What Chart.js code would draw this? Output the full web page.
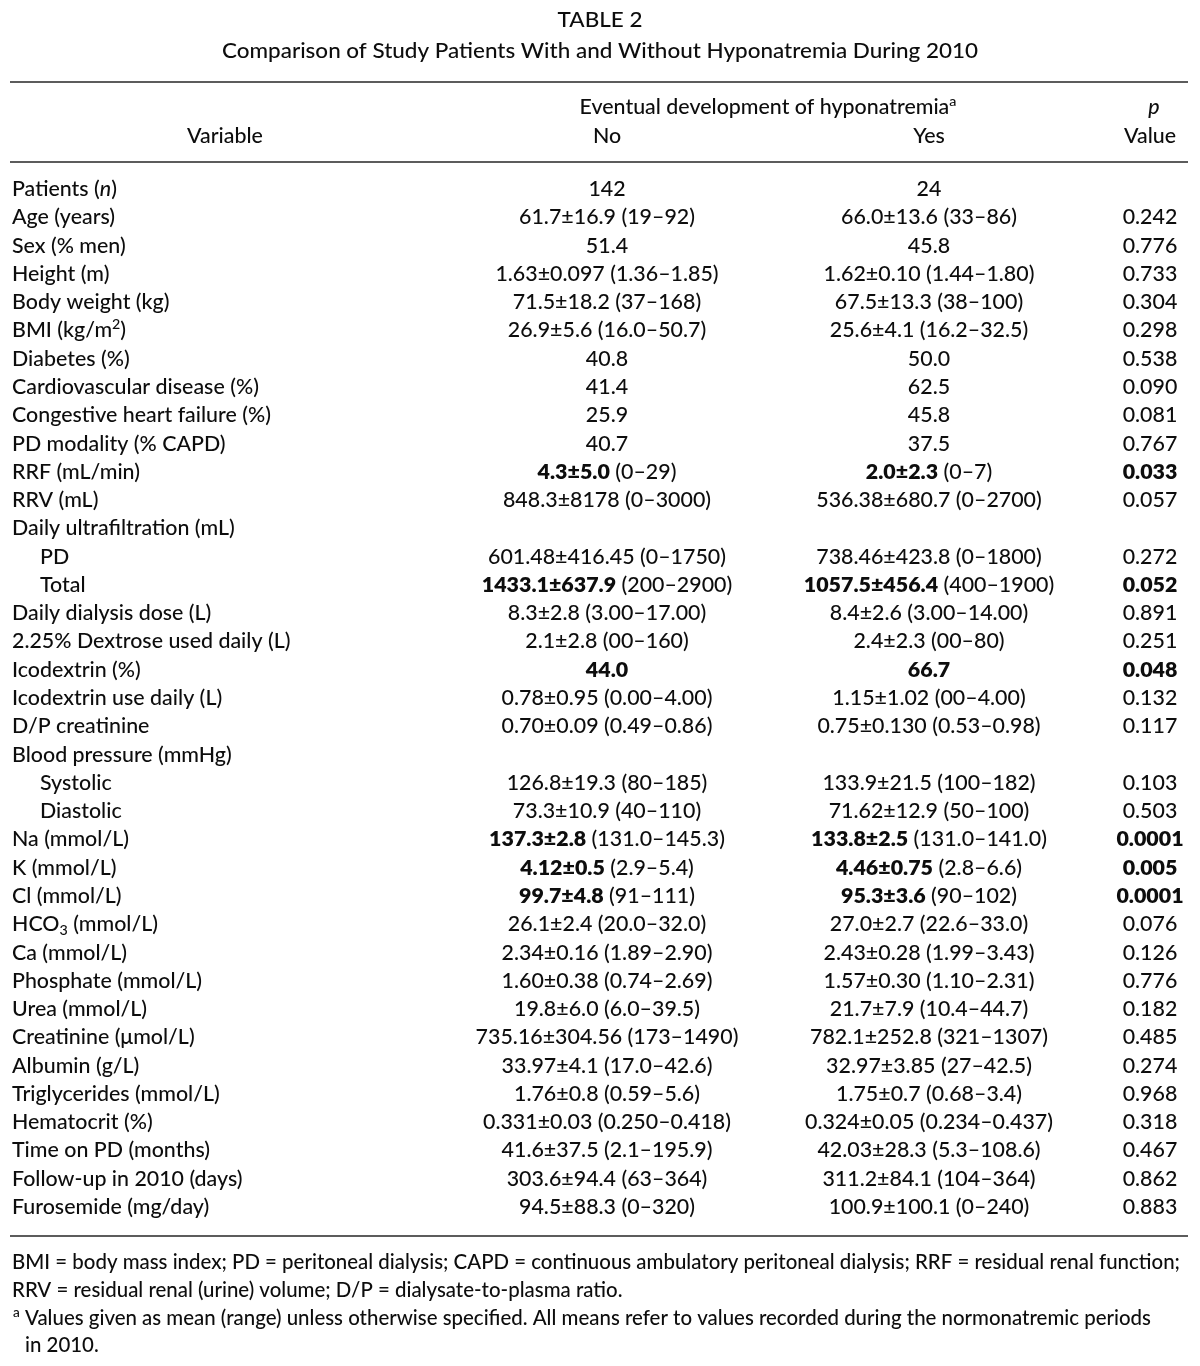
<!DOCTYPE html>
<html>
<head>
<meta charset="utf-8">
<script src="https://cdn.jsdelivr.net/npm/chart.js@4.4.1/dist/chart.umd.min.js"></script>
<style>
  html, body { margin: 0; padding: 0; background: #ffffff; }
  #wrap { width: 1200px; height: 1366px; position: relative; }
</style>
</head>
<body>
<div id="wrap"><canvas id="c"></canvas></div>
<script>
// ---------------- DATA ----------------
const tableTitle = "TABLE 2";
const tableSubtitle = "Comparison of Study Patients With and Without Hyponatremia During 2010";
const groupHeader = "Eventual development of hyponatremia^a^";
const columnHeaders = ["Variable", "No", "Yes", "Value"];
const pHeaderTop = "*p*";

const rowLabels = [
  "Patients (*n*)",
  "Age (years)",
  "Sex (% men)",
  "Height (m)",
  "Body weight (kg)",
  "BMI (kg/m^2^)",
  "Diabetes (%)",
  "Cardiovascular disease (%)",
  "Congestive heart failure (%)",
  "PD modality (% CAPD)",
  "RRF (mL/min)",
  "RRV (mL)",
  "Daily ultrafiltration (mL)",
  "PD",
  "Total",
  "Daily dialysis dose (L)",
  "2.25% Dextrose used daily (L)",
  "Icodextrin (%)",
  "Icodextrin use daily (L)",
  "D/P creatinine",
  "Blood pressure (mmHg)",
  "Systolic",
  "Diastolic",
  "Na (mmol/L)",
  "K (mmol/L)",
  "Cl (mmol/L)",
  "HCO~3~ (mmol/L)",
  "Ca (mmol/L)",
  "Phosphate (mmol/L)",
  "Urea (mmol/L)",
  "Creatinine (μmol/L)",
  "Albumin (g/L)",
  "Triglycerides (mmol/L)",
  "Hematocrit (%)",
  "Time on PD (months)",
  "Follow-up in 2010 (days)",
  "Furosemide (mg/day)"
];

const subRows = ["PD", "Total", "Systolic", "Diastolic"];

const noStat = ["142","61.7±16.9","51.4","1.63±0.097","71.5±18.2","26.9±5.6","40.8","41.4","25.9","40.7",
  "4.3±5.0","848.3±8178","","601.48±416.45","1433.1±637.9","8.3±2.8","2.1±2.8","44.0","0.78±0.95","0.70±0.09",
  "","126.8±19.3","73.3±10.9","137.3±2.8","4.12±0.5","99.7±4.8","26.1±2.4","2.34±0.16","1.60±0.38","19.8±6.0",
  "735.16±304.56","33.97±4.1","1.76±0.8","0.331±0.03","41.6±37.5","303.6±94.4","94.5±88.3"];
const noRange = ["","(19–92)","","(1.36–1.85)","(37–168)","(16.0–50.7)","","","","",
  "(0–29)","(0–3000)","","(0–1750)","(200–2900)","(3.00–17.00)","(00–160)","","(0.00–4.00)","(0.49–0.86)",
  "","(80–185)","(40–110)","(131.0–145.3)","(2.9–5.4)","(91–111)","(20.0–32.0)","(1.89–2.90)","(0.74–2.69)","(6.0–39.5)",
  "(173–1490)","(17.0–42.6)","(0.59–5.6)","(0.250–0.418)","(2.1–195.9)","(63–364)","(0–320)"];
const yesStat = ["24","66.0±13.6","45.8","1.62±0.10","67.5±13.3","25.6±4.1","50.0","62.5","45.8","37.5",
  "2.0±2.3","536.38±680.7","","738.46±423.8","1057.5±456.4","8.4±2.6","2.4±2.3","66.7","1.15±1.02","0.75±0.130",
  "","133.9±21.5","71.62±12.9","133.8±2.5","4.46±0.75","95.3±3.6","27.0±2.7","2.43±0.28","1.57±0.30","21.7±7.9",
  "782.1±252.8","32.97±3.85","1.75±0.7","0.324±0.05","42.03±28.3","311.2±84.1","100.9±100.1"];
const yesRange = ["","(33–86)","","(1.44–1.80)","(38–100)","(16.2–32.5)","","","","",
  "(0–7)","(0–2700)","","(0–1800)","(400–1900)","(3.00–14.00)","(00–80)","","(00–4.00)","(0.53–0.98)",
  "","(100–182)","(50–100)","(131.0–141.0)","(2.8–6.6)","(90–102)","(22.6–33.0)","(1.99–3.43)","(1.10–2.31)","(10.4–44.7)",
  "(321–1307)","(27–42.5)","(0.68–3.4)","(0.234–0.437)","(5.3–108.6)","(104–364)","(0–240)"];
const pValues = ["","0.242","0.776","0.733","0.304","0.298","0.538","0.090","0.081","0.767",
  "0.033","0.057","","0.272","0.052","0.891","0.251","0.048","0.132","0.117",
  "","0.103","0.503","0.0001","0.005","0.0001","0.076","0.126","0.776","0.182",
  "0.485","0.274","0.968","0.318","0.467","0.862","0.883"];
const significantRows = ["RRF (mL/min)", "Total", "Icodextrin (%)", "Na (mmol/L)", "K (mmol/L)", "Cl (mmol/L)"];

const footnotes = [
  "BMI = body mass index; PD = peritoneal dialysis; CAPD = continuous ambulatory peritoneal dialysis; RRF = residual renal function;",
  "RRV = residual renal (urine) volume; D/P = dialysate-to-plasma ratio.",
  "Values given as mean (range) unless otherwise specified. All means refer to values recorded during the normonatremic periods",
  "in 2010."
];
const footnoteMark = "a";

// ---------------- STYLE / LAYOUT ----------------
const FONT = 'Lato, "Open Sans", "Noto Sans", sans-serif';
const SIZE = 21;
const W_REG = '500';
const W_BOLD = '800';
const INK = "#0d0d0d";
const RULE = "#5c5c5c";
const COL = { label: 12, indent: 40, no: 607, yes: 929, p: 1150, group: 768, varHead: 225 };
let SX = 1;

function parseMarkup(str, bold) {
  const parts = str.split(/(\*[^*]+\*|\^[^^]+\^|~[^~]+~)/).filter(s => s.length);
  return parts.map(p => {
    if (p[0] === '*' && p[p.length-1] === '*') return { text: p.slice(1,-1), italic: true, bold };
    if (p[0] === '^' && p[p.length-1] === '^') return { text: p.slice(1,-1), sup: true, bold };
    if (p[0] === '~' && p[p.length-1] === '~') return { text: p.slice(1,-1), sub: true, bold };
    return { text: p, bold };
  });
}
function fontFor(seg) {
  const sz = (seg.sup || seg.sub) ? Math.round(SIZE * 0.66) : SIZE;
  return (seg.italic ? 'italic ' : '') + (seg.bold ? W_BOLD : W_REG) + ' ' + sz + 'px ' + FONT;
}
function segWidth(ctx, seg, sx) { ctx.font = fontFor(seg); return ctx.measureText(seg.text).width * sx; }
function segsWidth(ctx, segs, sx) { return segs.reduce((a, s) => a + segWidth(ctx, s, sx), 0); }
function drawSegs(ctx, segs, x, base, align, sxOverride) {
  const sx = sxOverride || SX;
  const total = segsWidth(ctx, segs, sx);
  let cx = align === 'center' ? x - total / 2 : (align === 'right' ? x - total : x);
  for (const s of segs) {
    const w = segWidth(ctx, s, sx);
    let dy = 0;
    if (s.sup) dy = -8;
    if (s.sub) dy = 4;
    ctx.save();
    ctx.font = fontFor(s);
    ctx.fillStyle = INK;
    ctx.textBaseline = 'alphabetic';
    ctx.textAlign = 'left';
    ctx.translate(cx, base + dy);
    ctx.scale(sx, 1);
    ctx.fillText(s.text, 0, 0);
    ctx.restore();
    cx += w;
  }
}
function hRule(ctx, x1, x2, y) {
  ctx.save();
  ctx.strokeStyle = RULE;
  ctx.lineWidth = 2;
  ctx.beginPath(); ctx.moveTo(x1, y); ctx.lineTo(x2, y); ctx.stroke();
  ctx.restore();
}

const tablePlugin = {
  id: 'tablePlugin',
  afterDraw(chart) {
    const ctx = chart.ctx;
    const xs = chart.scales.x, ys = chart.scales.y;
    ctx.font = W_REG + ' ' + SIZE + 'px ' + FONT;
    SX = 259 / ctx.measureText('Congestive heart failure (%)').width;
    const X = v => xs.getPixelForValue(v);
    const OFF = 7;

    // Title
    const subSegs = parseMarkup(tableSubtitle, false);
    const titleSX = 756 / segsWidth(ctx, subSegs, 1);
    drawSegs(ctx, parseMarkup(tableTitle, false), X(600), 27, 'center', titleSX);
    drawSegs(ctx, subSegs, X(600), 58, 'center', titleSX);
    hRule(ctx, X(10), X(1188), 82);

    // Header
    drawSegs(ctx, parseMarkup(groupHeader, false), X(COL.group), 114, 'center');
    drawSegs(ctx, parseMarkup(pHeaderTop, false), X(COL.p + 4), 114, 'center');
    drawSegs(ctx, parseMarkup(columnHeaders[0], false), X(COL.varHead), 143, 'center');
    drawSegs(ctx, parseMarkup(columnHeaders[1], false), X(COL.no), 143, 'center');
    drawSegs(ctx, parseMarkup(columnHeaders[2], false), X(COL.yes), 143, 'center');
    drawSegs(ctx, parseMarkup(columnHeaders[3], false), X(COL.p), 143, 'center');

    const yFirst = ys.getPixelForValue(0);
    const yLast = ys.getPixelForValue(rowLabels.length - 1);
    hRule(ctx, X(10), X(1188), yFirst - 27);

    // Body
    rowLabels.forEach((lab, i) => {
      const y = ys.getPixelForValue(i) + OFF;
      const plain = lab.replace(/[*^~]/g, '');
      const sig = significantRows.includes(plain);
      const xl = subRows.includes(plain) ? COL.indent : COL.label;
      drawSegs(ctx, parseMarkup(lab, false), X(xl), y, 'left');
      if (noStat[i] || noRange[i]) {
        const segs = [{ text: noStat[i], bold: sig }];
        if (noRange[i]) segs.push({ text: ' ' + noRange[i], bold: false });
        drawSegs(ctx, segs, X(COL.no), y, 'center');
      }
      if (yesStat[i] || yesRange[i]) {
        const segs = [{ text: yesStat[i], bold: sig }];
        if (yesRange[i]) segs.push({ text: ' ' + yesRange[i], bold: false });
        drawSegs(ctx, segs, X(COL.yes), y, 'center');
      }
      if (pValues[i]) drawSegs(ctx, [{ text: pValues[i], bold: sig }], X(COL.p), y, 'center');
    });

    hRule(ctx, X(10), X(1188), yLast + 29);

    // Footnotes
    const fn0 = parseMarkup(footnotes[0], false);
    const fnSX = 1168 / segsWidth(ctx, fn0, 1);
    const fb = yLast + 62;
    drawSegs(ctx, fn0, X(12), fb, 'left', fnSX);
    drawSegs(ctx, parseMarkup(footnotes[1], false), X(12), fb + 28, 'left', fnSX);
    drawSegs(ctx, [{ text: footnoteMark, sup: true }], X(13), fb + 56, 'left', fnSX);
    drawSegs(ctx, parseMarkup(footnotes[2], false), X(25), fb + 56, 'left', fnSX);
    drawSegs(ctx, parseMarkup(footnotes[3], false), X(25), fb + 83, 'left', fnSX);
  }
};

new Chart(document.getElementById('c'), {
  type: 'scatter',
  data: {
    datasets: [{
      label: 'rows',
      data: rowLabels.map((_, i) => ({ x: COL.label, y: i })),
      pointRadius: 0,
      pointHoverRadius: 0,
      showLine: false
    }]
  },
  options: {
    responsive: true,
    maintainAspectRatio: false,
    animation: false,
    events: [],
    layout: { padding: { top: 189, bottom: 159, left: 0, right: 0 } },
    plugins: { legend: { display: false }, tooltip: { enabled: false }, title: { display: false } },
    scales: {
      x: { type: 'linear', min: 0, max: 1200, display: false },
      y: { type: 'linear', min: 0, max: rowLabels.length - 1, reverse: true, display: false }
    }
  },
  plugins: [tablePlugin]
});
</script>
</body>
</html>
